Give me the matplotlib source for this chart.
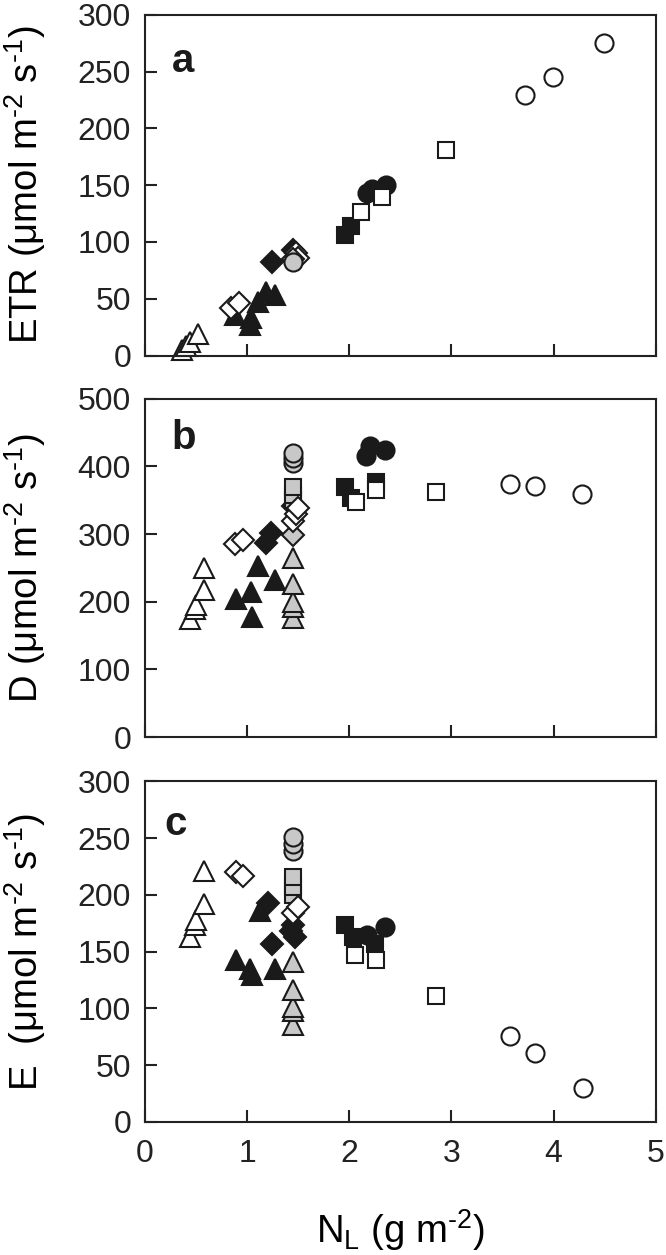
import numpy as np
import matplotlib
matplotlib.use("Agg")
import matplotlib.pyplot as plt

plt.rcParams["font.family"] = ["Liberation Sans", "DejaVu Sans"]
plt.rcParams["mathtext.fontset"] = "custom"
plt.rcParams["mathtext.rm"] = "Liberation Sans"
plt.rcParams["mathtext.it"] = "Liberation Sans"

# ---- panel a: ETR ----
a_open_tri_x = [0.36, 0.40, 0.44, 0.52]
a_open_tri_y = [5, 8, 12, 19]
a_filled_tri_x = [0.88, 1.03, 1.04, 1.11, 1.18, 1.27]
a_filled_tri_y = [36, 27, 33, 47, 56, 53]
a_open_dia_x = [0.84, 0.92, 1.48, 1.50]
a_open_dia_y = [42, 46, 90, 86]
a_filled_dia_x = [1.24, 1.45]
a_filled_dia_y = [82, 93]
a_gray_dia_x = [1.45]
a_gray_dia_y = [85]
a_gray_circ_x = [1.45]
a_gray_circ_y = [82]
a_filled_sq_x = [1.96, 2.02]
a_filled_sq_y = [106, 114]
a_filled_circ_x = [2.17, 2.22, 2.36]
a_filled_circ_y = [143, 147, 150]
a_open_sq_x = [2.11, 2.32, 2.95]
a_open_sq_y = [126, 140, 181]
a_open_circ_x = [3.72, 3.99, 4.49]
a_open_circ_y = [229, 245, 275]

# ---- panel b: D ----
b_open_tri_x = [0.44, 0.49, 0.50, 0.58, 0.58]
b_open_tri_y = [174, 190, 195, 218, 250]
b_filled_tri_x = [0.89, 1.04, 1.05, 1.11, 1.27]
b_filled_tri_y = [204, 215, 178, 253, 232]
b_gray_tri_x = [1.45, 1.45, 1.45, 1.45, 1.45]
b_gray_tri_y = [176, 193, 200, 226, 264]
b_filled_dia_x = [1.18, 1.23, 1.45]
b_filled_dia_y = [287, 302, 341]
b_gray_dia_x = [1.45]
b_gray_dia_y = [299]
b_gray_sq_x = [1.45, 1.45, 1.45]
b_gray_sq_y = [350, 358, 370]
b_open_dia_x = [0.88, 0.96, 1.45, 1.48, 1.50]
b_open_dia_y = [286, 291, 320, 330, 339]
b_gray_circ_x = [1.45, 1.45, 1.45]
b_gray_circ_y = [405, 412, 420]
b_filled_circ_x = [2.16, 2.20, 2.35]
b_filled_circ_y = [416, 431, 425]
b_filled_sq_x = [1.96, 2.02, 2.26]
b_filled_sq_y = [370, 353, 377]
b_open_sq_x = [2.07, 2.26, 2.85]
b_open_sq_y = [348, 365, 362]
b_open_circ_x = [3.57, 3.82, 4.28]
b_open_circ_y = [374, 371, 359]

# ---- panel c: E ----
c_open_tri_x = [0.44, 0.49, 0.50, 0.58, 0.58]
c_open_tri_y = [163, 173, 178, 192, 221]
c_filled_tri_x = [0.89, 1.03, 1.05, 1.13, 1.27]
c_filled_tri_y = [143, 135, 129, 186, 135]
c_gray_tri_x = [1.45, 1.45, 1.45, 1.45, 1.45]
c_gray_tri_y = [85, 98, 101, 116, 141]
c_filled_dia_x = [1.20, 1.24, 1.43, 1.45, 1.47]
c_filled_dia_y = [193, 157, 168, 173, 163]
c_gray_sq_x = [1.45, 1.45, 1.45]
c_gray_sq_y = [200, 207, 216]
c_open_dia_x = [0.89, 0.96, 1.45, 1.50]
c_open_dia_y = [220, 217, 184, 189]
c_gray_circ_x = [1.45, 1.45, 1.45]
c_gray_circ_y = [239, 245, 251]
c_filled_sq_x = [1.96, 2.04, 2.25]
c_filled_sq_y = [173, 163, 157]
c_filled_circ_x = [2.17, 2.35]
c_filled_circ_y = [165, 172]
c_open_sq_x = [2.06, 2.26, 2.85]
c_open_sq_y = [147, 143, 111]
c_open_circ_x = [3.57, 3.82, 4.29]
c_open_circ_y = [76, 61, 30]

BLACK = "#1a1a1a"
GRAY = "#c8c8c8"
WHITE = "white"
sizes = {"^": 14, "D": 11.5, "s": 11.5, "o": 13}


def pts(ax, x, y, marker, fill):
    ax.plot(x, y, linestyle="none", marker=marker, markersize=sizes[marker],
            markerfacecolor=fill, markeredgecolor=BLACK, markeredgewidth=1.5,
            clip_on=False)


def style_axis(ax, ymax, ystep, letter, lpos, ylabel, show_x):
    ax.set_xlim(0, 5)
    ax.set_ylim(0, ymax)
    ax.set_xticks(np.arange(0, 6, 1))
    ax.set_yticks(np.arange(0, ymax + 1, ystep))
    for sp in ax.spines.values():
        sp.set_linewidth(1.5)
        sp.set_color("#222222")
    ax.tick_params(direction="in", length=8.5, width=1.5, colors="#222222",
                   labelsize=23, pad=10, top=False, right=False)
    ax.tick_params(axis="x", pad=12)
    if not show_x:
        ax.tick_params(axis="x", labelbottom=False)
    ax.set_ylabel(ylabel, fontsize=27.5)
    ax.yaxis.set_label_coords(-0.19, 0.5)
    ax.text(lpos[0], lpos[1], letter, transform=ax.transAxes, fontsize=29,
            fontweight="bold", ha="center", va="center", color=BLACK)


fig = plt.figure(figsize=(6.66, 12.55), dpi=100)
left, width, height = 0.2177, 0.767, 0.2715
ax_a = fig.add_axes([left, 0.7167, width, height])
ax_b = fig.add_axes([left, 0.4127, width, 0.2695])
ax_c = fig.add_axes([left, 0.1060, width, height])

unit = r" ($\mathregular{\mu}$mol m$^{\text{-2}}$ s$^{\text{-1}}$)"

# panel a
pts(ax_a, a_filled_tri_x, a_filled_tri_y, "^", BLACK)
pts(ax_a, a_open_tri_x, a_open_tri_y, "^", WHITE)
pts(ax_a, a_filled_dia_x, a_filled_dia_y, "D", BLACK)
pts(ax_a, a_open_dia_x, a_open_dia_y, "D", WHITE)
pts(ax_a, a_gray_dia_x, a_gray_dia_y, "D", GRAY)
pts(ax_a, a_gray_circ_x, a_gray_circ_y, "o", GRAY)
pts(ax_a, a_filled_circ_x, a_filled_circ_y, "o", BLACK)
pts(ax_a, a_filled_sq_x, a_filled_sq_y, "s", BLACK)
pts(ax_a, a_open_sq_x, a_open_sq_y, "s", WHITE)
pts(ax_a, a_open_circ_x, a_open_circ_y, "o", WHITE)
style_axis(ax_a, 300, 50, "a", (0.075, 0.863), "ETR" + unit, False)

# panel b
pts(ax_b, b_open_tri_x, b_open_tri_y, "^", WHITE)
pts(ax_b, b_filled_tri_x, b_filled_tri_y, "^", BLACK)
pts(ax_b, b_gray_tri_x, b_gray_tri_y, "^", GRAY)
pts(ax_b, b_filled_dia_x, b_filled_dia_y, "D", BLACK)
pts(ax_b, b_gray_dia_x, b_gray_dia_y, "D", GRAY)
pts(ax_b, b_gray_sq_x, b_gray_sq_y, "s", GRAY)
pts(ax_b, b_open_dia_x, b_open_dia_y, "D", WHITE)
pts(ax_b, b_gray_circ_x, b_gray_circ_y, "o", GRAY)
pts(ax_b, b_filled_circ_x, b_filled_circ_y, "o", BLACK)
pts(ax_b, b_filled_sq_x, b_filled_sq_y, "s", BLACK)
pts(ax_b, b_open_sq_x, b_open_sq_y, "s", WHITE)
pts(ax_b, b_open_circ_x, b_open_circ_y, "o", WHITE)
style_axis(ax_b, 500, 100, "b", (0.075, 0.885), "D" + unit, False)

# panel c
pts(ax_c, c_open_tri_x, c_open_tri_y, "^", WHITE)
pts(ax_c, c_filled_tri_x, c_filled_tri_y, "^", BLACK)
pts(ax_c, c_gray_tri_x, c_gray_tri_y, "^", GRAY)
pts(ax_c, c_filled_dia_x, c_filled_dia_y, "D", BLACK)
pts(ax_c, c_gray_sq_x, c_gray_sq_y, "s", GRAY)
pts(ax_c, c_open_dia_x, c_open_dia_y, "D", WHITE)
pts(ax_c, c_gray_circ_x, c_gray_circ_y, "o", GRAY)
pts(ax_c, c_filled_sq_x, c_filled_sq_y, "s", BLACK)
pts(ax_c, c_filled_circ_x, c_filled_circ_y, "o", BLACK)
pts(ax_c, c_open_sq_x, c_open_sq_y, "s", WHITE)
pts(ax_c, c_open_circ_x, c_open_circ_y, "o", WHITE)
style_axis(ax_c, 300, 50, "c", (0.06, 0.875), "E " + unit, True)
ax_c.set_xlabel(r"N$_{\mathregular{L}}$ (g m$^{\text{-2}}$)", fontsize=27.5, labelpad=28)

fig.savefig("out.png", dpi=100)
